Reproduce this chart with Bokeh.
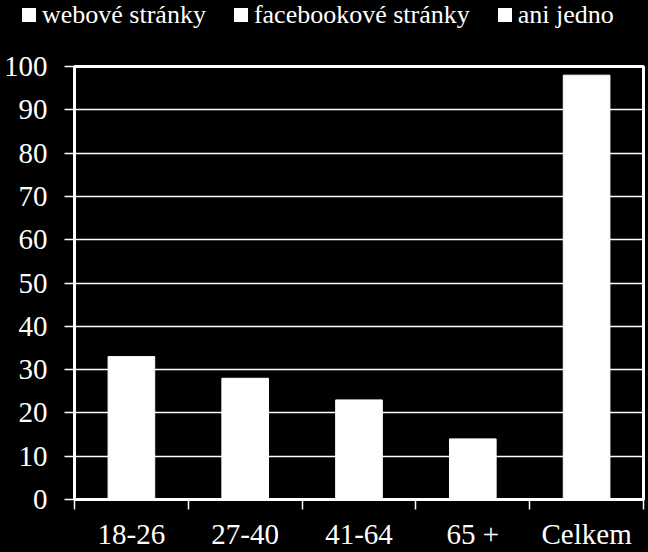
from bokeh.plotting import figure
from bokeh.layouts import column
from bokeh.models import (Range1d, FixedTicker, ColumnDataSource, Div,
                          GlobalInlineStyleSheet)
from bokeh.embed import file_html
from bokeh.resources import INLINE

# ---- data ----
categories = ["18-26", "27-40", "41-64", "65 +", "Celkem"]
values = [33, 28, 23, 14, 98]
series_names = ["webové stránky", "facebookové stránky", "ani jedno"]
y_ticks = list(range(0, 101, 10))

FONT = "Liberation Serif"

xs = [i + 0.5 for i in range(len(categories))]
src = ColumnDataSource(dict(x=xs, top=values))

# ---------------- main chart ----------------
p = figure(width=648, height=518, output_backend="svg", toolbar_location=None,
           x_range=Range1d(0, len(categories)), y_range=Range1d(0, 100))
p.stylesheets = [GlobalInlineStyleSheet(css="html, body { background: #000; }")]
p.margin = 0

p.background_fill_color = "black"
p.border_fill_color = "black"
p.outline_line_color = "white"
p.outline_line_width = 3
p.min_border_left = 73
p.min_border_right = 5
p.min_border_top = 32
p.min_border_bottom = 0

bars = p.vbar(x="x", top="top", width=0.41, source=src,
              fill_color="white", line_color="white")

p.xgrid.grid_line_color = None
p.ygrid.grid_line_color = "white"
p.ygrid.grid_line_width = 1.5
p.ygrid.ticker = FixedTicker(ticks=y_ticks)

p.yaxis.ticker = FixedTicker(ticks=y_ticks)
p.yaxis.axis_line_color = "white"
p.yaxis.axis_line_width = 2
p.yaxis.major_tick_line_color = "white"
p.yaxis.major_tick_line_width = 1.5
p.yaxis.major_tick_out = 10
p.yaxis.major_tick_in = 0
p.yaxis.minor_tick_line_color = None
p.yaxis.major_label_text_color = "white"
p.yaxis.major_label_text_font = FONT
p.yaxis.major_label_text_font_size = "29px"
p.yaxis.major_label_standoff = 17

p.xaxis.ticker = FixedTicker(ticks=xs, minor_ticks=list(range(len(categories) + 1)))
p.xaxis.major_label_overrides = {x: c for x, c in zip(xs, categories)}
p.xaxis.axis_line_color = "white"
p.xaxis.axis_line_width = 2
p.xaxis.major_tick_line_color = None
p.xaxis.major_tick_out = 0
p.xaxis.major_tick_in = 0
p.xaxis.minor_tick_line_color = "white"
p.xaxis.minor_tick_line_width = 1.5
p.xaxis.minor_tick_out = 10
p.xaxis.minor_tick_in = 0
p.xaxis.major_label_text_color = "white"
p.xaxis.major_label_text_font = FONT
p.xaxis.major_label_text_font_size = "29px"
p.xaxis.major_label_standoff = 8

# ---------------- legend strip (HTML) ----------------
swatch = ('<span style="display:inline-block;width:14px;height:14px;'
          'background:#fff;margin-right:6px;vertical-align:1px;"></span>')
gap = '<span style="display:inline-block;width:28px;"></span>'
items_html = gap.join(f'{swatch}<span>{name}</span>' for name in series_names)
legend_html = (f'<div style="margin:0;padding:0 0 0 22px;font-family:\'{FONT}\',serif;'
               f'font-size:26px;line-height:29px;color:#fff;white-space:nowrap;">'
               f'{items_html}</div>')
lg = Div(text=legend_html, width=648, height=34, margin=0,
         styles={"background-color": "black"})

layout = column(lg, p, spacing=0, margin=0)
open("out.html", "w").write(file_html(layout, INLINE))
